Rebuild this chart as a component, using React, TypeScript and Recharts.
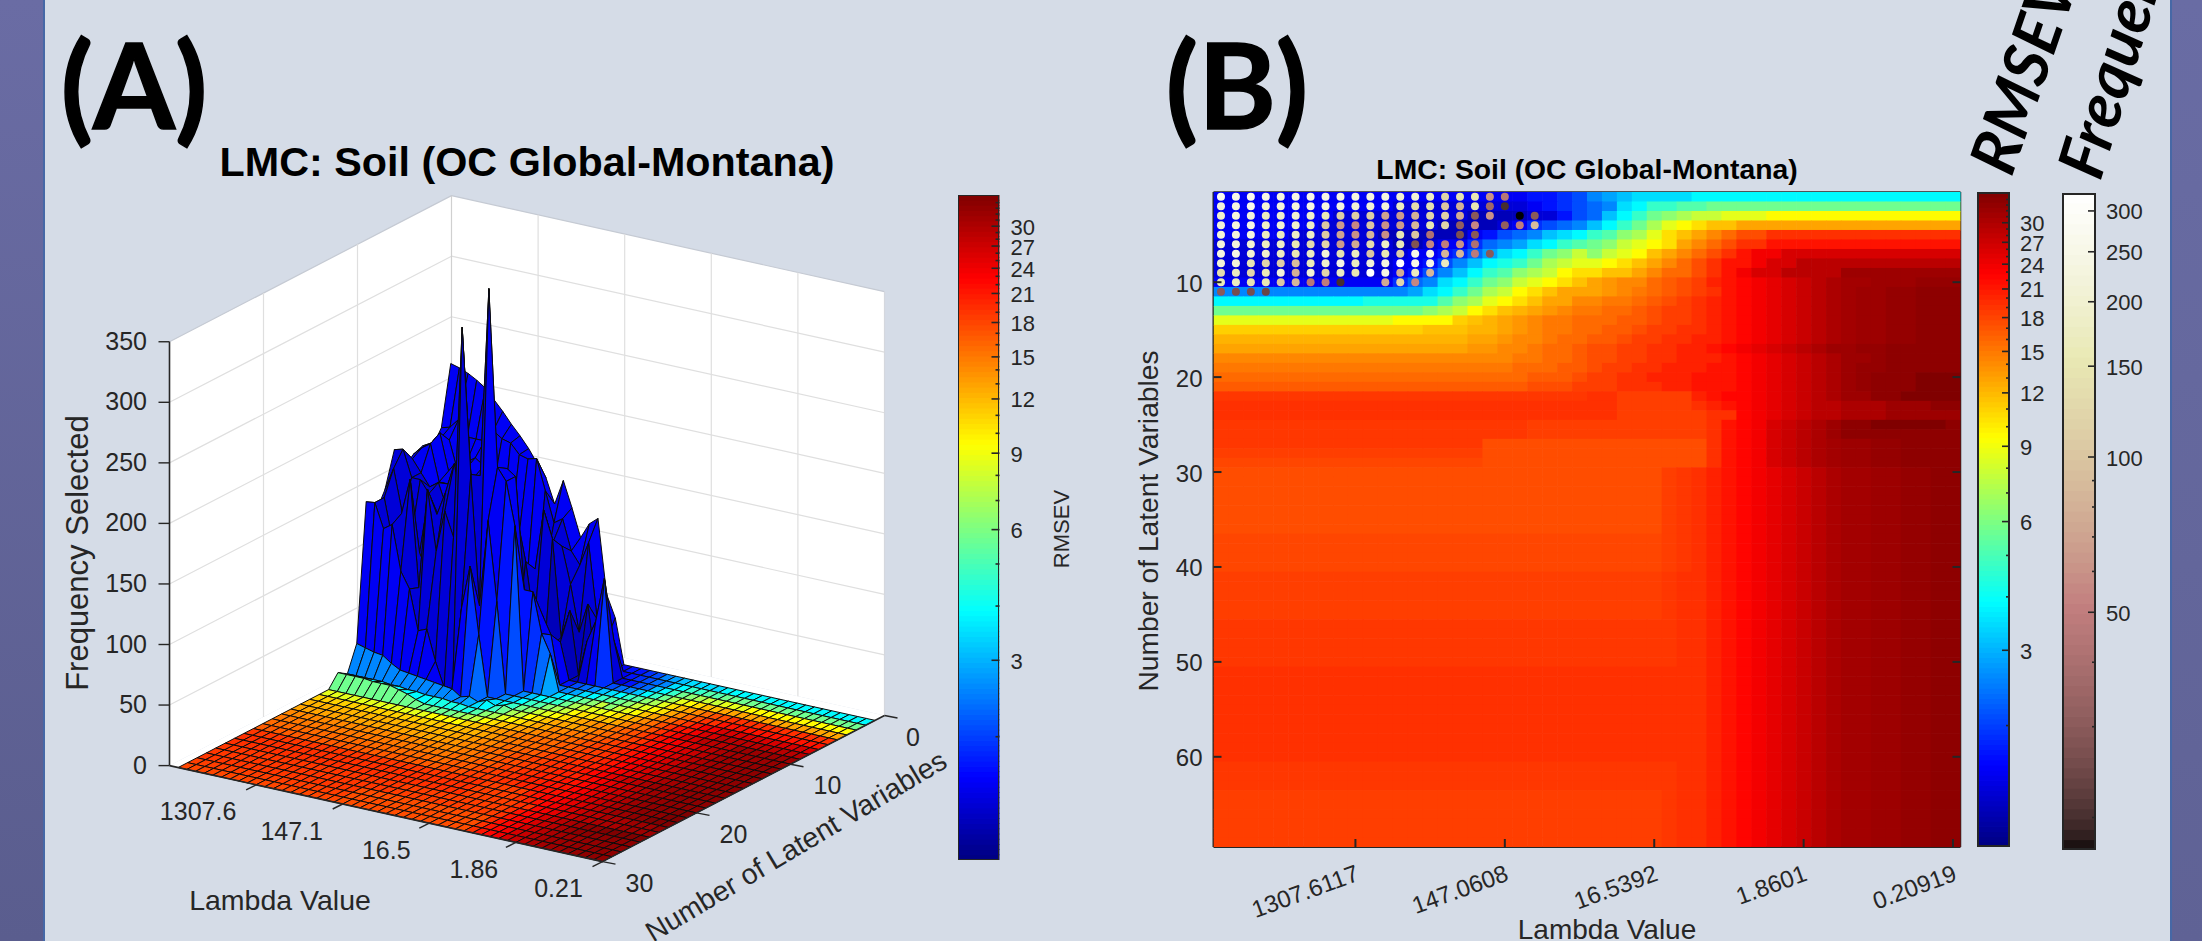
import React from "react";
import { ScatterChart, Scatter, XAxis, YAxis } from "recharts";

// ---------- data ----------
const latentTicks = [10, 20, 30, 40, 50, 60];
const lambdaTicks = [10, 20, 30, 40, 50];
const lambdaLabelsB = ["1307.6117", "147.0608", "16.5392", "1.8601", "0.20919"];
const lambdaLabelsA = ["1307.6", "147.1", "16.5", "1.86", "0.21"];
const latentLabelsA = [0, 10, 20, 30];
const freqAxisLabelsA = [0, 50, 100, 150, 200, 250, 300, 350];
const rmsevMajorTicks = [3, 6, 9, 12, 15, 18, 21, 24, 27, 30];
const rmsevMinorTicks = [2, 4, 5, 7, 8, 10, 11, 13, 14, 16, 17, 19, 20, 22, 23, 25, 26, 28, 29, 31, 32, 33, 34];
const freqMajorTicks = [50, 100, 150, 200, 250, 300];
const freqMinorTicks = [20, 30, 40, 60, 70, 80, 90];
const RMSEV_LO = 1.04, RMSEV_HI = 35.4, FREQ_LO = 17.3, FREQ_HI = 325;

// RMSEV value of each code character 0-9a-z (an upper-case letter sits half a step above)
const rmsevLevels = [1.04, 1.15, 1.27, 1.41, 1.56, 1.72, 1.9, 2.1, 2.32, 2.57, 2.85, 3.15, 3.48, 3.85, 4.26, 4.71, 5.21, 5.76, 6.37, 7.05, 7.8, 8.62, 9.54, 10.55, 11.67, 12.91, 14.28, 15.79, 17.47, 19.32, 21.37, 23.63, 26.14, 28.91, 31.97, 35.4];
const rmsevExtra: Record<string, number> = { "+": 17.91, "~": 18.85, "!": 31.27, "^": 32.85 };

// one line per latent variable, cols 1-25 then cols 26-50
const rmsevRows = [
  "4444444444444444444445567 9abccccdddddddddddddddddd",
  "4444444444443333333334567 89cdffgghhhhhhhhhhhhhhhhh",
  "4444444433333333322223357 8bdfhijkklllmmmmmmmmmmmmm",
  "4444444333333332222346789 bdfhjlmnooppppppppppppppp",
  "4444433333322222245789bcd fgijlnopqrsstttttttttttttt",
  "3333333333332234468 9acdfg hiklmnpqrsttuuuuuuuuuuuuu",
  "3333333333333445 68acdfhik iklmopqrstuvvwwwwwwwwwwww",
  "3333333333334457 9bdefhjkl lmnopqrstuuvwwxxxxxxxxxxx",
  "3333333333334579 bdfgijkmn noopqrrstuvwwxxxxyyyyyyyy",
  "444444444444689c dfhiklmno pPqqrRsSTuUvVwWxX!!yyy^^^",
  "9999999999999acdfhjkmnopp pPqQrRsStuUvVwWxX!yy^^YYY",
  "dddddddddd eeeeegijlmnoppq qQQrRsStTuUvVwWxX!yy^^YYY",
  "hhhhhhhhhhhhhhijkmnoOpPqQ QrrRsSStTuUvVwWxX!yy^^YYY",
  "llllllllllllmmmmNoOpPqQQr rrRRsSStTuUvVwWxX!yy^^YYY",
  "NNNNNNNNNNNNNNoooOOpPqQQr rRRsSSttTuUvVwWxX!yy^^YYY",
  "OOOOOOOOOOOOOOOOOppPqqQrr RRsSSttTTuUvVwWxX!yy^^YYY",
  "pppppppppppppppppPPqqQrr RssSSttTTuUvVwWxXyy^^YYYY",
  "qqqqqqqqqqqqqqqqqqqqQQrrR ssSSttTTTuUvVwWxXyy^YYYYY",
  "QQQQQQQQQQQQQQQQQQQQrrrRR sSSttTTTuuUvVwWxXy^^YYYYY",
  "rrrrrrrrrrrrrrrrrrrrrRRRs SSttTTTuuuUvVwWxXy^YYYzzz",
  "RRRRRRRRRRRRRRRRRRRRRsssS SStttTTuuuUvVwWxXy^YYYzzz",
  "~~~~~~~~~~~~~~~~~~~~~~~~~ ttSSSSSTuUUvVwWxXyyYYzzzz",
  "ttttttttttttttttttttttttt ttSSSSStTuUvVwWxxXXXyyyYY",
  "ttttttttttttttttttttttttt ttSSSSSSttUvVwWxxXXXyyyyy",
  "~~~~~~~~~~~~~~~~~~~~~SSSS SSSSSSSStuUvwWxXyYYzzzzzY",
  "~~~~~~~~~~~~~~~~~~~~~SSSS SSSSSSSStuUvwWxXyYYYYYYYY",
  "~~~~~~~~~~~~~~~~~~sssssss sssssssstuUvwWxX!yy^^YYYY",
  "SSSSSSSSSSSSSSSSSSsssssss sssssssstuUvwWxX!yy^^YYYY",
  "++++++++++++++++++sssssss sssssssstuUvwWxX!yy^^YYYY",
  "sssssssssssssssssssssssss sssssS~tTuUvVwWxX!!yy^^YY",
  "sssssssssssssssssssssssss sssssS~tTuUvVwWxX!!yy^^YY",
  "sssssssssssssssssssssssss sssssS~tTuUvVwWxX!!yy^^YY",
  "sssssssssssssssssssssssss sssssS~tTuUvVwWxX!!yy^^YY",
  "sssssssssssssssssssssssss sssssS~tTuUvVwWxX!!yy^^YY",
  "sssssssssssssssssssssssss sssssS~tTuUvVwWxX!!yy^^YY",
  "sssssssssssssssssssssssss sssssS~tTuUvVwWxX!!yy^^YY",
  "+++++++++++++++++++++++++ +++++S~tTuUvVwWxX!!yy^^YY",
  "+++++++++++++++++++++++++ +++++S~tTuUvVwWxX!!yy^^YY",
  "+++++++++++++++++++++++++ +++++S~tTuUvVwWxX!!yy^^YY",
  "+++++++++++++++++++++++++ +++++S~tTuUvVwWxX!!yy^^YY",
  "SSSSSSSSSSSSSSSSSSSSSSSSS SSSSS~ttTuUvVwWxX!!yy^^YY",
  "SSSSSSSSSSSSSSSSSSSSSSSSS SSSSS~ttTuUvVwWxX!!yy^^YY",
  "SSSSSSSSSSSSSSSSSSSSSSSSS SSSSS~ttTuUvVwWxX!!yy^^YY",
  "SSSSSSSSSSSSSSSSSSSSSSSSS SSSSS~ttTuUvVwWxX!!yy^^YY",
  "SSSSSSSSSSSSSSSSSSSSSSSSS SSSSS~ttTuUvVwWxX!!yy^^YY",
  "~~~~~~~~~~~~~~~~~~~~~~~~~ ~~~~~~ttTuUvVwWxX!!yy^^YY",
  "~~~~~~~~~~~~~~~~~~~~~~~~~ ~~~~~~ttTuUvVwWxX!!yy^^YY",
  "~~~~~~~~~~~~~~~~~~~~~~~~~ ~~~~~~ttTuUvVwWxX!!yy^^YY",
  "~~~~~~~~~~~~~~~~~~~~~~~~~ ~~~~~~ttTuUvVwWxX!!yy^^YY",
  "~~~~~~~~~~~~~~~~~~~~~~~~~ ~~~~~~ttTuUvVwWxX!!yy^^YY",
  "ttttttttttttttttttttttttt ttttttttTuUvVwWxX!!yy^^YY",
  "ttttttttttttttttttttttttt ttttttttTuUvVwWxX!!yy^^YY",
  "ttttttttttttttttttttttttt ttttttttTuUvVwWxX!!yy^^YY",
  "ttttttttttttttttttttttttt ttttttttTuUvVwWxX!!yy^^YY",
  "ttttttttttttttttttttttttt ttttttttTuUvVwWxX!!yy^^YY",
  "ttttttttttttttttttttttttt ttttttttTuUvVwWxX!!yy^^YY",
  "ttttttttttttttttttttttttt ttttttttTuUvVwWxX!!yy^^YY",
  "ttttttttttttttttttttttttt ttttttttTuUvVwWxX!!yy^^YY",
  "ttttttttttttttttttttttttt ttttttttTuUvVwWxX!!yy^^YY",
  "ttttttttttttttttttttttttt ttttttttTuUvVwWxX!!yy^^YY",
  "~~~~~~~~~~~~~~~~~~~~~~~~~ ~~~~~~ttTuUvVwWxX!!yy^^YY",
  "~~~~~~~~~~~~~~~~~~~~~~~~~ ~~~~~~ttTuUvVwWxX!!yy^^YY",
  "~~~~~~~~~~~~~~~~~~~~~~~~~ ~~~~~~ttTuUvVwWxX!!yy^^YY",
  "SSSSSSSSSSSSSSSSSSSSSSSSS SSSSS~ttTuUvVwWxX!!yy^^YY",
  "SSSSSSSSSSSSSSSSSSSSSSSSS SSSSS~ttTuUvVwWxX!!yy^^YY",
  "SSSSSSSSSSSSSSSSSSSSSSSSS SSSSS~ttTuUvVwWxX!!yy^^YY",
  "SSSSSSSSSSSSSSSSSSSSSSSSS SSSSS~ttTuUvVwWxX!!yy^^YY",
  "SSSSSSSSSSSSSSSSSSSSSSSSS SSSSS~ttTuUvVwWxX!!yy^^YY",
  "SSSSSSSSSSSSSSSSSSSSSSSSS SSSSS~ttTuUvVwWxX!!yy^^YY",
];

// frequency of the dots in panel B (0 = no dot), rows then columns
const dotFrequency = [
  [270, 250, 270, 240, 230, 240, 250, 240, 240, 230, 230, 230, 200, 210, 180, 120, 140, 150, 60, 45],
  [220, 230, 260, 210, 220, 220, 240, 230, 230, 210, 210, 220, 170, 130, 140, 100, 80, 150, 36, 20],
  [190, 220, 220, 170, 190, 200, 190, 160, 110, 110, 110, 70, 65, 80, 120, 115, 75, 30, 60, 0, 17, 30],
  [210, 220, 240, 180, 200, 190, 180, 100, 65, 55, 100, 60, 65, 85, 150, 120, 32, 55, 0, 32, 50, 90],
  [210, 220, 230, 170, 170, 180, 180, 105, 70, 60, 85, 58, 150, 100, 42, 0, 27, 30],
  [220, 220, 200, 170, 180, 150, 130, 120, 65, 75, 130, 180, 160, 28, 55, 50, 60, 42],
  [230, 240, 200, 190, 170, 150, 170, 210, 140, 170, 100, 150, 110, 250, 230, 85, 85, 48, 30],
  [210, 210, 150, 120, 110, 90, 160, 190, 240, 170, 210, 230, 320, 250, 240, 170],
  [130, 170, 120, 160, 210, 80, 200, 120, 170, 150, 325, 240, 75, 170, 85],
  [160, 170, 140, 150, 100, 85, 45, 50, 20, 0, 0, 75, 120, 55],
  [30, 26, 26, 24],
];

// surface height in panel A (frequency selected), rows then columns; anything not listed is 0
const surfaceFrequency = [
  [217, 215, 212, 208, 203, 195, 187, 178, 170, 161, 150, 140, 120, 141, 120, 97, 110, 116, 55, 37],
  [168, 170, 178, 165, 165, 165, 175, 170, 168, 160, 158, 160, 135, 110, 115, 90, 80, 100, 38, 22],
  [155, 165, 165, 140, 150, 155, 150, 130, 95, 95, 95, 65, 60, 72, 100, 98, 68, 30, 55, 0, 17, 30],
  [161, 165, 175, 145, 155, 150, 145, 88, 65, 55, 85, 52, 60, 80, 130, 108, 28, 52, 0, 30, 48, 85],
  [158, 165, 170, 140, 140, 145, 145, 95, 68, 55, 75, 54, 125, 90, 40, 0, 26, 30],
  [150, 160, 150, 140, 145, 125, 110, 102, 60, 68, 110, 145, 130, 28, 50, 45, 55, 40],
  [170, 172, 150, 150, 140, 125, 140, 160, 115, 140, 88, 125, 95, 175, 170, 78, 78, 45, 30],
  [141, 160, 125, 105, 95, 80, 130, 150, 175, 140, 160, 170, 326, 180, 170, 135],
  [126, 140, 105, 130, 160, 72, 155, 105, 140, 120, 295, 175, 68, 140, 75],
  [139, 140, 120, 125, 88, 75, 42, 45, 20, 0, 0, 68, 105, 50],
  [26, 24, 22, 21, 16, 12, 11, 10, 9, 8, 7, 6, 1, 3, 0, 3, 0, 2],
  [5, 5, 5, 5, 5, 4, 4, 3, 3, 2, 2, 2, 1, 1],
  [10, 10, 10, 10, 9, 9, 9, 7, 5, 2],
];

// ---------- colormaps ----------
const clip = (v: number) => Math.max(0, Math.min(1, v));
const css = (r: number, g: number, b: number) => `rgb(${Math.round(r * 255)},${Math.round(g * 255)},${Math.round(b * 255)})`;
const jet = (t: number) => css(clip(1.5 - Math.abs(4 * t - 3)), clip(1.5 - Math.abs(4 * t - 2)), clip(1.5 - Math.abs(4 * t - 1)));
const pink = (t: number) => {
  const c = (h: number) => Math.sqrt((2 / 3) * t + (1 / 3) * h);
  return css(c(clip(t / 0.375)), c(clip((t - 0.375) / 0.375)), c(clip((t - 0.75) / 0.25)));
};
const rmsevColor = (v: number) => jet(Math.log(v / RMSEV_LO) / Math.log(RMSEV_HI / RMSEV_LO));
const freqColor = (v: number) => pink(clip(Math.log(v / FREQ_LO) / Math.log(FREQ_HI / FREQ_LO)));

const CODES = "0123456789abcdefghijklmnopqrstuvwxyz";
const decode = (ch: string) => {
  if (rmsevExtra[ch]) return rmsevExtra[ch];
  const i = CODES.indexOf(ch.toLowerCase());
  const v = rmsevLevels[i];
  return ch !== ch.toLowerCase() ? Math.sqrt(v * rmsevLevels[Math.min(35, i + 1)]) : v;
};
const rmsevGrid: number[][] = rmsevRows.map((row) => {
  const all = row.split(" ").join("").padEnd(50, row[row.length - 1]);
  return all.slice(0, 50).split("").map(decode);
});

// ---------- shared look ----------
const INK = "#262626";
const SANS = "'Liberation Sans', Arial, sans-serif";
const BG = "#d5dce7";

const Txt = ({ x, y, size, children, weight, rot, family, style, color }: any) => (
  <div
    style={{
      position: "absolute", left: x, top: y, whiteSpace: "nowrap", lineHeight: 1,
      transform: `translate(-50%,-50%) rotate(${rot || 0}deg)`,
      fontSize: size, fontWeight: weight || 400, fontFamily: family || SANS, color: color || INK, ...style,
    }}
  >
    {children}
  </div>
);

// ---------- panel A: projected surface ----------
const proj = (col: number, lv: number, z: number): [number, number] => [
  451.5 + col * 8.66 + lv * -9.4,
  619.5 + col * 1.92 + lv * 4.87 - z * 1.211,
];
const zAt = (r: number, c: number) => (surfaceFrequency[r - 1] && surfaceFrequency[r - 1][c - 1]) || 0;

type Item = { x: number; y: number; pts: [number, number][]; fill?: string; stroke?: string; sw?: number; depth?: number };
const makeItem = (corners: [number, number, number][], fill: string | undefined, stroke: string, sw: number, depth = 0): Item => {
  const p = corners.map((c) => proj(c[0], c[1], c[2]));
  return { x: p[0][0], y: p[0][1], pts: p, fill, stroke, sw, depth };
};

const surfaceFaces: Item[] = [];
for (let r = 1; r < 30; r++) {
  for (let c = 1; c < 50; c++) {
    surfaceFaces.push(
      makeItem(
        [[c, r, zAt(r, c)], [c + 1, r, zAt(r, c + 1)], [c + 1, r + 1, zAt(r + 1, c + 1)], [c, r + 1, zAt(r + 1, c)]],
        rmsevColor(rmsevGrid[r - 1][c - 1]), "#0b0b0b", 1, c * 1.92 + r * 4.87,
      ),
    );
  }
}
surfaceFaces.sort((a, b) => (a.depth as number) - (b.depth as number));

const wallItems: Item[] = [
  makeItem([[0, 30, 0], [0, 30, 350], [0, 0, 350], [0, 0, 0]], "#ffffff", "none", 0),
  makeItem([[0, 0, 0], [0, 0, 350], [50, 0, 350], [50, 0, 0]], "#ffffff", "none", 0),
  makeItem([[0, 30, 0], [0, 0, 0], [50, 0, 0], [50, 30, 0]], "#ffffff", "none", 0),
];
const GRID = "#dfdfdf";
freqAxisLabelsA.slice(1).forEach((z) => {
  wallItems.push(makeItem([[0, 30, z], [0, 0, z], [50, 0, z]], undefined, z === 350 ? "#c5cad3" : GRID, 1.2));
});
[10, 20].forEach((lv) => wallItems.push(makeItem([[0, lv, 0], [0, lv, 350]], undefined, GRID, 1.2)));
wallItems.push(makeItem([[0, 0, 0], [0, 0, 350]], undefined, "#d0d0d0", 1.2));
[10, 20, 30, 40].forEach((c) => wallItems.push(makeItem([[c, 0, 0], [c, 0, 350]], undefined, GRID, 1.2)));
wallItems.push(makeItem([[50, 0, 0], [50, 0, 350]], undefined, "#d5d8de", 1.2));

const axisItems: Item[] = [
  makeItem([[0, 30, 0], [0, 30, 350]], undefined, INK, 1.6),
  makeItem([[0, 30, 0], [50, 30, 0], [50, 0, 0]], undefined, INK, 1.6),
];
freqAxisLabelsA.forEach((z) => {
  const [x, y] = proj(0, 30, z);
  axisItems.push({ x, y, pts: [[x, y], [x - 11, y]], stroke: INK, sw: 1.4 });
});
lambdaTicks.forEach((c) => {
  const [x, y] = proj(c, 30, 0);
  axisItems.push({ x, y, pts: [[x, y], [x - 10, y + 5]], stroke: INK, sw: 1.4 });
});
latentLabelsA.forEach((lv) => {
  const [x, y] = proj(50, lv, 0);
  axisItems.push({ x, y, pts: [[x, y], [x + 13, y + 2.5]], stroke: INK, sw: 1.4 });
});

const FacePath = (props: any) => {
  const { cx, cy, payload } = props;
  const dx = cx - payload.x, dy = cy - payload.y;
  const d = payload.pts.map((p: number[], i: number) => `${i ? "L" : "M"}${p[0] + dx} ${p[1] + dy}`).join("") + (payload.fill ? "Z" : "");
  return <path d={d} fill={payload.fill || "none"} stroke={payload.stroke} strokeWidth={payload.sw} strokeLinejoin="round" />;
};

const lambdaLabelOffsetA = [-58, -51, -43, -42, -44];

const PanelA = () => (
  <div style={{ position: "absolute", left: 0, top: 0 }}>
    <ScatterChart width={1100} height={941} margin={{ top: 0, right: 0, bottom: 0, left: 0 }}>
      <XAxis type="number" dataKey="x" domain={[0, 1100]} hide allowDataOverflow />
      <YAxis type="number" dataKey="y" domain={[0, 941]} reversed hide allowDataOverflow />
      <Scatter data={wallItems} isAnimationActive={false} shape={FacePath} />
      <Scatter data={surfaceFaces} isAnimationActive={false} shape={FacePath} />
      <Scatter data={axisItems} isAnimationActive={false} shape={FacePath} />
    </ScatterChart>
    {freqAxisLabelsA.map((z) => (
      <div key={z} style={{ position: "absolute", right: 1100 - 147, top: proj(0, 30, z)[1] - 15, fontSize: 25, lineHeight: "28px", fontFamily: SANS, color: INK }}>{z}</div>
    ))}
    {lambdaLabelsA.map((t, i) => (
      <Txt key={t} x={proj(lambdaTicks[i], 30, 0)[0] + lambdaLabelOffsetA[i]} y={proj(lambdaTicks[i], 30, 0)[1] + 26.5} size={25}>{t}</Txt>
    ))}
    {latentLabelsA.map((t) => (
      <Txt key={t} x={proj(50, t, 0)[0] + (t === 0 ? 28.5 : 37)} y={proj(50, t, 0)[1] + 21} size={25}>{t}</Txt>
    ))}
    <Txt x={77} y={553} size={31} rot={-90}>Frequency Selected</Txt>
    <Txt x={280} y={900} size={28.5}>Lambda Value</Txt>
    <Txt x={796} y={846} size={28.5} rot={-30.8}>Number of Latent Variables</Txt>
    <Txt x={527} y={163} size={41.3} weight={700} color="#000">LMC: Soil (OC Global-Montana)</Txt>
    <Txt x={1062} y={529} size={22} rot={-90}>RMSEV</Txt>
  </div>
);

// ---------- colorbars ----------
const bandValues = (lo: number, hi: number, n: number) => {
  const out: { x: number; y: number }[] = [];
  for (let k = 0; k < n; k++) out.push({ x: 0.5, y: lo * Math.pow(hi / lo, (k + 0.5) / n) });
  return out;
};

const ColorBar = ({ left, top, width, height, lo, hi, major, minor, n, color, labelGap, border }: any) => {
  const bands = bandValues(lo, hi, n);
  const bandH = height / n + 0.8;
  const Band = (p: any) => <rect x={p.cx - width / 2} y={p.cy - bandH / 2} width={width} height={bandH} fill={color(p.payload.y)} />;
  const Tick = (p: any) => {
    const v = p.payload.value;
    const isMajor = major.includes(v);
    return (
      <g>
        <line x1={p.x - (isMajor ? 8 : 4)} x2={p.x} y1={p.y} y2={p.y} stroke={INK} strokeWidth={1.6} />
        {isMajor && <text x={p.x + labelGap} y={p.y + 1} dominantBaseline="central" fontSize={22} fontFamily={SANS} fill={INK}>{v}</text>}
      </g>
    );
  };
  return (
    <div style={{ position: "absolute", left, top }}>
      <ScatterChart width={width + 70} height={height} margin={{ top: 0, right: 69, bottom: 0, left: 0 }}>
        <XAxis type="number" dataKey="x" domain={[0, 1]} hide />
        <Scatter data={bands} isAnimationActive={false} shape={Band} />
        <YAxis type="number" dataKey="y" orientation="right" scale="log" domain={[lo, hi]} allowDataOverflow
          ticks={[...major, ...minor]} interval={0} width={1} tickSize={0} tickMargin={0} axisLine={false} tickLine={false} tick={Tick} />
      </ScatterChart>
      <div style={{ position: "absolute", left: 0, top: 0, width, height, boxSizing: "border-box", border: `${border}px solid ${INK}`, pointerEvents: "none" }} />
    </div>
  );
};

// ---------- panel B: heat map with dots ----------
const PLOT_L = 1213.5, PLOT_R = 1960.5, PLOT_T = 192, PLOT_B = 847;
const CELL_W = (PLOT_R - PLOT_L) / 50, CELL_H = (PLOT_B - PLOT_T) / 69;
const heatCells = rmsevGrid.flatMap((row, r) => row.map((v, c) => ({ col: c + 1, lv: r + 1, rmsev: v })));
const dotCells = dotFrequency.flatMap((row, r) => row.map((f, c) => ({ col: c + 1, lv: r + 1, freq: f }))).filter((d) => d.freq > 0);

const HeatCell = (p: any) => (
  <rect x={p.cx - CELL_W / 2} y={p.cy - CELL_H / 2} width={CELL_W + 0.6} height={CELL_H + 0.6} fill={rmsevColor(p.payload.rmsev)} />
);
const Dot = (p: any) => <circle cx={p.cx} cy={p.cy} r={4} fill={freqColor(p.payload.freq)} />;

const tickLine = (x1: number, y1: number, x2: number, y2: number) => <line x1={x1} y1={y1} x2={x2} y2={y2} stroke={INK} strokeWidth={2} />;
const LeftTick = (p: any) => (
  <g>
    {tickLine(p.x, p.y, p.x + 8, p.y)}
    <text x={p.x - 11} y={p.y + 1} textAnchor="end" dominantBaseline="central" fontSize={24} fontFamily={SANS} fill={INK}>{p.payload.value}</text>
  </g>
);
const RightTick = (p: any) => <g>{tickLine(p.x, p.y, p.x - 8, p.y)}</g>;
const TopTick = (p: any) => <g>{tickLine(p.x, p.y, p.x, p.y + 8)}</g>;
const BottomTick = (p: any) => (
  <g>
    {tickLine(p.x, p.y, p.x, p.y - 8)}
    <text transform={`translate(${p.x + 5},${p.y + 33}) rotate(-20)`} textAnchor="end" fontSize={24} fontFamily={SANS} fill={INK}>
      {lambdaLabelsB[lambdaTicks.indexOf(p.payload.value)]}
    </text>
  </g>
);

const PanelB = () => (
  <>
    <div style={{ position: "absolute", left: 1100, top: 0 }}>
      <ScatterChart width={880} height={941}
        margin={{ top: PLOT_T - 1, left: PLOT_L - 1100 - 1, right: 880 - (PLOT_R - 1100) - 1, bottom: 941 - PLOT_B - 1 }}>
        <Scatter data={heatCells} isAnimationActive={false} shape={HeatCell} />
        <Scatter data={dotCells} isAnimationActive={false} shape={Dot} />
        <XAxis type="number" dataKey="col" domain={[0.5, 50.5]} ticks={lambdaTicks} interval={0} height={1} tickSize={0} tickMargin={0} tickLine={false}
          axisLine={{ stroke: INK, strokeWidth: 2 }} tick={BottomTick} allowDataOverflow />
        <XAxis xAxisId="top" orientation="top" type="number" domain={[0.5, 50.5]} ticks={lambdaTicks} interval={0} height={1} tickSize={0} tickMargin={0} tickLine={false}
          axisLine={{ stroke: INK, strokeWidth: 1.5 }} tick={TopTick} allowDataOverflow />
        <YAxis type="number" dataKey="lv" reversed domain={[0.5, 69.5]} ticks={latentTicks} interval={0} width={1} tickSize={0} tickMargin={0} tickLine={false}
          axisLine={{ stroke: INK, strokeWidth: 2 }} tick={LeftTick} allowDataOverflow />
        <YAxis yAxisId="right" orientation="right" type="number" reversed domain={[0.5, 69.5]} ticks={latentTicks} interval={0} width={1} tickSize={0} tickMargin={0} tickLine={false}
          axisLine={{ stroke: INK, strokeWidth: 1.5 }} tick={RightTick} allowDataOverflow />
      </ScatterChart>
    </div>
    <Txt x={1148} y={521} size={28.2} rot={-90}>Number of Latent Variables</Txt>
    <Txt x={1607} y={930} size={28}>Lambda Value</Txt>
    <Txt x={1587} y={169} size={28.3} weight={700} color="#000">LMC: Soil (OC Global-Montana)</Txt>
  </>
);

const bigLetter: React.CSSProperties = { WebkitTextStroke: "1.5px #000" } as any;

export default function App() {
  return (
    <div style={{ position: "fixed", left: 0, top: 0, width: 2202, height: 941, overflow: "hidden", background: BG }}>
      <div style={{ position: "absolute", left: 0, top: 0, width: 43, height: 941, background: "linear-gradient(#6a6ca4,#5a5d8e)", borderRight: "2px solid #4668a6" }} />
      <div style={{ position: "absolute", left: 2170, top: 0, width: 32, height: 941, background: "linear-gradient(#696ca4,#5f6295)", borderLeft: "2px solid #4668a6" }} />
      <PanelA />
      <ColorBar left={957.5} top={195} width={41.5} height={665} lo={RMSEV_LO} hi={RMSEV_HI} major={rmsevMajorTicks} minor={rmsevMinorTicks} n={128} color={rmsevColor} labelGap={11} border={1.5} />
      <PanelB />
      <ColorBar left={1977} top={192} width={33} height={655} lo={RMSEV_LO} hi={RMSEV_HI} major={rmsevMajorTicks} minor={rmsevMinorTicks} n={128} color={rmsevColor} labelGap={10} border={2} />
      <ColorBar left={2062} top={193} width={34} height={657} lo={FREQ_LO} hi={FREQ_HI} major={freqMajorTicks} minor={freqMinorTicks} n={64} color={freqColor} labelGap={10} border={2} />
      <Txt x={134} y={84} size={118} weight={700} family="Lato, sans-serif" color="#000" style={bigLetter}>(A)</Txt>
      <Txt x={1237} y={84} size={118} weight={700} family="Lato, sans-serif" color="#000" style={bigLetter}>(B)</Txt>
      <Txt x={2022} y={74} size={64} weight={700} rot={-71} family="Lato, sans-serif" color="#000" style={{ fontStyle: "italic" }}>RMSEV</Txt>
      <Txt x={2118} y={42} size={64} weight={700} rot={-73} family="Lato, sans-serif" color="#000" style={{ fontStyle: "italic" }}>Frequency</Txt>
    </div>
  );
}
